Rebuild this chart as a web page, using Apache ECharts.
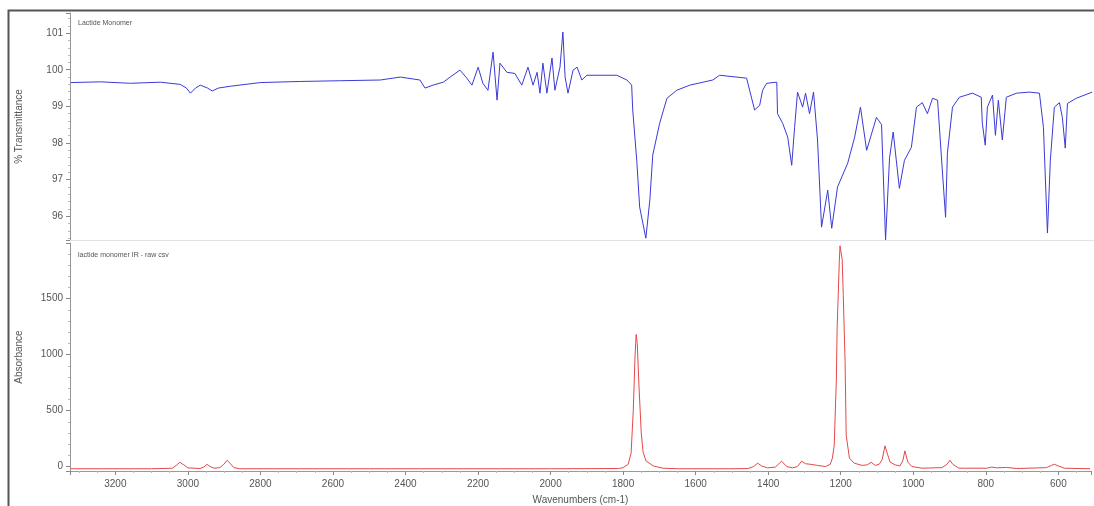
<!DOCTYPE html>
<html>
<head>
<meta charset="utf-8">
<script src="https://cdn.jsdelivr.net/npm/echarts@6/dist/echarts.min.js"></script>
<style>html,body{margin:0;padding:0;background:#fff;}#c{width:1094px;height:506px;}</style>
</head>
<body>
<div id="c"></div>
<script>
// Top spectrum: % Transmittance vs wavenumber (cm-1)
var transWn = [3323,3241,3159,3076,3022,3005,2994,2980,2967,2947,2934,2917,2884,2802,2692,2582,2472,2417,2363,2349,2327,2299,2280,2253,2234,2220,2203,2190,2176,2162,2151,2143,2124,2102,2083,2066,2052,2041,2033,2025,2014,2000,1992,1978,1970,1964,1956,1942,1931,1918,1904,1868,1822,1794,1781,1778,1767,1759,1742,1731,1723,1704,1684,1657,1621,1558,1539,1465,1443,1429,1421,1410,1382,1380,1366,1352,1341,1333,1325,1311,1303,1292,1281,1270,1259,1242,1231,1215,1187,1168,1152,1135,1108,1094,1083,1072,1062,1045,1031,1012,998,982,968,954,940,927,918,913,899,880,844,820,817,809,803,789,781,773,762,751,723,688,660,649,638,630,619,605,597,589,583,559,515];
var transVal = [99.65,99.67,99.63,99.66,99.6,99.5,99.36,99.5,99.58,99.5,99.42,99.5,99.55,99.65,99.68,99.7,99.72,99.8,99.72,99.5,99.58,99.66,99.8,99.99,99.77,99.58,100.07,99.63,99.44,100.48,99.17,100.18,99.93,99.9,99.58,100.07,99.58,99.93,99.36,100.18,99.36,100.32,99.44,100.07,101.03,99.8,99.36,99.99,100.07,99.72,99.85,99.85,99.85,99.72,99.58,98.9,97.53,96.25,95.4,96.44,97.67,98.54,99.22,99.44,99.58,99.72,99.85,99.77,98.9,99.03,99.44,99.63,99.66,98.8,98.54,98.16,97.39,98.43,99.39,98.98,99.36,98.8,99.39,98.08,95.7,96.71,95.67,96.8,97.45,98.16,98.98,97.8,98.7,98.5,95.35,97.6,98.3,96.76,97.53,97.88,98.98,99.1,98.8,99.22,99.17,97.26,95.97,97.72,98.98,99.25,99.36,99.25,98.54,97.94,98.98,99.31,98.21,99.17,98.08,99.25,99.36,99.39,99.36,98.43,95.54,97.53,98.98,99.1,98.7,97.86,99.08,99.22,99.39];

// Bottom spectrum: Absorbance vs wavenumber (cm-1)
var absWn = [3323,3100,3043,3032,3022,3011,3000,2967,2956,2947,2939,2928,2912,2901,2892,2884,2873,2857,2500,2000,1813,1800,1786,1778,1772,1767,1764,1761,1756,1750,1745,1737,1717,1690,1649,1500,1456,1440,1429,1418,1402,1380,1363,1349,1333,1319,1308,1297,1284,1264,1242,1229,1223,1218,1212,1210,1204,1202,1196,1193,1188,1185,1176,1163,1141,1127,1116,1105,1094,1086,1078,1072,1064,1050,1037,1029,1023,1015,1004,976,921,907,899,891,874,798,784,770,743,715,633,619,611,600,583,512];
var absVal = [-20,-20,-15,10,38,15,-12,-18,-5,20,0,-15,-10,20,56,30,-10,-20,-20,-20,-18,-10,20,120,500,1000,1180,1100,700,300,130,50,5,-15,-20,-20,-18,0,30,5,-12,-5,48,0,-12,0,48,25,20,10,0,20,75,190,790,1230,1830,1973,1850,1530,940,280,75,30,10,15,38,10,20,60,185,120,40,15,5,50,140,40,0,-15,-10,20,56,20,-15,-15,-5,-12,-8,-18,-10,10,20,5,-15,-20];

var xTicks = [3200,3000,2800,2600,2400,2200,2000,1800,1600,1400,1200,1000,800,600];

function zip(a, b) { return a.map(function (v, i) { return [v, b[i]]; }); }

var chart = echarts.init(document.getElementById('c'), null, {renderer: 'canvas'});
var font = 'Liberation Sans, Arial, sans-serif';
var labelStyle = {color: '#555', fontSize: 10, fontFamily: font};

chart.setOption({
  animation: false,
  backgroundColor: '#fff',
  title: [
    {text: 'Lactide Monomer', left: 73, top: 15, textStyle: {fontSize: 7, fontWeight: 'normal', color: '#555', fontFamily: font}},
    {text: 'lactide monomer IR - raw csv', left: 73, top: 247, textStyle: {fontSize: 7, fontWeight: 'normal', color: '#555', fontFamily: font}}
  ],
  graphic: [
    {type: 'rect', shape: {x: 8.5, y: 10.5, width: 1100, height: 520}, style: {fill: 'none', stroke: '#555', lineWidth: 2}, z: 100, silent: true}
  ],
  grid: [
    {left: 70, right: 0, top: 13, height: 227},
    {left: 70, right: 0, top: 243, bottom: 34}
  ],
  xAxis: [
    {type: 'value', gridIndex: 0, inverse: true, min: 510, max: 3325, splitNumber: 14,
     axisLine: {show: true, onZero: false, lineStyle: {color: '#e2e2e2'}},
     axisTick: {show: false}, axisLabel: {show: false}, splitLine: {show: false}},
    {type: 'value', gridIndex: 1, inverse: true, min: 510, max: 3325, splitNumber: 14,
     name: 'Wavenumbers (cm-1)', nameLocation: 'middle', nameGap: 24,
     nameTextStyle: {color: '#555', fontSize: 10, fontFamily: font},
     axisLine: {show: true, onZero: false, lineStyle: {color: '#999'}},
     axisTick: {show: true, length: 4, lineStyle: {color: '#888'}},
     minorTick: {show: true, splitNumber: 4, length: 2, lineStyle: {color: '#bbb'}},
     axisLabel: Object.assign({}, labelStyle, {margin: 8,
       formatter: function (v) { return xTicks.indexOf(v) >= 0 ? String(v) : ''; }}),
     splitLine: {show: false}}
  ],
  yAxis: [
    {type: 'value', gridIndex: 0, min: 95.35, max: 101.55, splitNumber: 6,
     name: '% Transmittance', nameLocation: 'middle', nameGap: 46, nameRotate: 90,
     nameTextStyle: {color: '#555', fontSize: 10, fontFamily: font},
     axisLine: {show: true, lineStyle: {color: '#999'}},
     axisTick: {show: true, length: 4, lineStyle: {color: '#888'}},
     minorTick: {show: true, splitNumber: 5, length: 2, lineStyle: {color: '#bbb'}},
     axisLabel: Object.assign({}, labelStyle, {margin: 7,
       formatter: function (v) { return Math.abs(v - Math.round(v)) < 1e-6 ? String(Math.round(v)) : ''; }}),
     splitLine: {show: false}},
    {type: 'value', gridIndex: 1, min: -40, max: 1998, splitNumber: 4,
     name: 'Absorbance', nameLocation: 'middle', nameGap: 46, nameRotate: 90,
     nameTextStyle: {color: '#555', fontSize: 10, fontFamily: font},
     axisLine: {show: true, lineStyle: {color: '#999'}},
     axisTick: {show: true, length: 4, lineStyle: {color: '#888'}},
     minorTick: {show: true, splitNumber: 5, length: 2, lineStyle: {color: '#bbb'}},
     axisLabel: Object.assign({}, labelStyle, {margin: 7,
       formatter: function (v) { return v % 500 === 0 ? String(v) : ''; }}),
     splitLine: {show: false}}
  ],
  series: [
    {type: 'line', xAxisIndex: 0, yAxisIndex: 0, data: zip(transWn, transVal), showSymbol: false,
     lineStyle: {color: '#3a3ad6', width: 1}, itemStyle: {color: '#3a3ad6'}},
    {type: 'line', xAxisIndex: 1, yAxisIndex: 1, data: zip(absWn, absVal), showSymbol: false,
     lineStyle: {color: '#e64848', width: 1}, itemStyle: {color: '#e64848'}}
  ]
});
</script>
</body>
</html>
